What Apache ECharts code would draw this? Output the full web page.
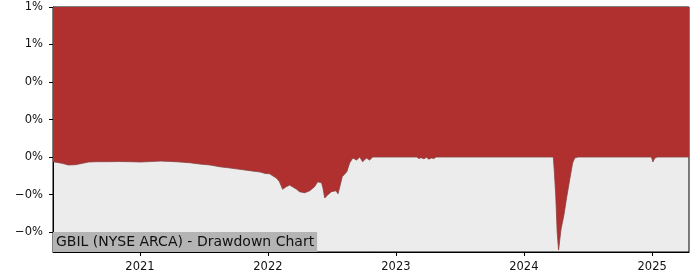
<!DOCTYPE html>
<html>
<head>
<meta charset="utf-8">
<script src="https://cdn.jsdelivr.net/npm/echarts@6/dist/echarts.min.js"></script>
<style>html,body{margin:0;padding:0;background:#fff}#c{width:700px;height:280px}</style>
</head>
<body>
<div id="c"></div>
<script>
const titleText = 'GBIL (NYSE ARCA) - Drawdown Chart';
const yTickValues = [-0.5, -0.25, 0, 0.25, 0.5, 0.75, 1.0];
const yTickLabels = ['\u22120%', '\u22120%', '0%', '0%', '0%', '1%', '1%'];
const xTickDates = ['2021-01-01', '2022-01-01', '2023-01-01', '2024-01-01', '2025-01-01'];
const xTickLabels = ['2021', '2022', '2023', '2024', '2025'];
const dates = [
  '2020-04-28','2020-05-10','2020-05-24','2020-06-11','2020-07-01','2020-07-21','2020-08-08','2020-09-01',
  '2020-10-01','2020-11-01','2020-12-01','2021-01-04','2021-02-01','2021-03-01','2021-03-28','2021-04-25',
  '2021-05-23','2021-06-21','2021-07-20','2021-08-17','2021-09-15','2021-10-13','2021-11-11','2021-12-10',
  '2021-12-24','2022-01-06','2022-01-26','2022-02-03','2022-02-12','2022-02-22','2022-03-04','2022-03-12',
  '2022-03-24','2022-04-01','2022-04-16','2022-04-30','2022-05-14','2022-05-23','2022-06-03','2022-06-07',
  '2022-06-12','2022-06-20','2022-07-01','2022-07-05','2022-07-14','2022-07-20','2022-08-01','2022-08-14',
  '2022-08-22','2022-08-31','2022-09-11','2022-09-20','2022-09-28','2022-10-09','2022-10-18','2022-10-27',
  '2022-12-01','2023-01-03','2023-03-01','2023-03-08','2023-03-14','2023-03-22','2023-03-29','2023-04-05',
  '2023-04-12','2023-04-19','2023-04-26','2023-08-01','2024-01-02','2024-03-25','2024-03-28','2024-04-01',
  '2024-04-05','2024-04-09','2024-04-12','2024-04-16','2024-04-24','2024-05-02','2024-05-10','2024-05-19',
  '2024-05-25','2024-06-03','2024-12-30','2025-01-03','2025-01-08','2025-01-15','2025-04-16'
];
const drawdown = [
  -0.031,-0.036,-0.042,-0.053,-0.051,-0.042,-0.033,-0.031,
  -0.031,-0.030,-0.031,-0.033,-0.030,-0.027,-0.029,-0.033,
  -0.038,-0.047,-0.053,-0.065,-0.073,-0.082,-0.091,-0.100,
  -0.109,-0.112,-0.142,-0.165,-0.215,-0.198,-0.187,-0.198,
  -0.215,-0.231,-0.238,-0.225,-0.198,-0.165,-0.172,-0.207,
  -0.273,-0.253,-0.231,-0.240,-0.225,-0.245,-0.131,-0.098,
  -0.040,-0.007,-0.020,0.000,-0.031,-0.007,-0.020,0.000,
  0.000,0.000,0.000,-0.010,-0.004,-0.012,-0.002,-0.014,
  -0.006,-0.010,0.000,0.000,0.000,0.000,-0.100,-0.260,
  -0.500,-0.620,-0.560,-0.480,-0.390,-0.270,-0.160,-0.040,
  -0.006,0.000,0.000,-0.033,-0.008,0.000,0.000
];

const ts = d => Date.UTC(+d.slice(0, 4), +d.slice(5, 7) - 1, +d.slice(8, 10));
const chart = echarts.init(document.getElementById('c'), null, {renderer: 'canvas'});
const font = 'DejaVu Sans';
const xTickTs = xTickDates.map(ts);
chart.setOption({
  animation: false,
  grid: {left: 53, right: 11, top: 7, bottom: 28, show: true, backgroundColor: '#ececec', borderColor: '#000', borderWidth: 1},
  title: {
    text: titleText, left: 53, bottom: 28,
    backgroundColor: '#b4b4b4', padding: [3, 3, 2, 3],
    textStyle: {fontFamily: font, fontSize: 14, fontWeight: 'normal', color: '#111', lineHeight: 15}
  },
  xAxis: {
    type: 'value',
    min: ts('2020-04-28'), max: ts('2025-04-16'),
    axisLine: {show: true, onZero: false, lineStyle: {color: '#000', width: 1}},
    axisTick: {show: true, inside: false, length: 4, lineStyle: {color: '#000'}, customValues: xTickTs},
    axisLabel: {
      customValues: xTickTs, margin: 9, color: '#111', fontFamily: font, fontSize: 11.5,
      formatter: v => { const i = xTickTs.indexOf(v); return i >= 0 ? xTickLabels[i] : ''; }
    },
    splitLine: {show: false}
  },
  yAxis: {
    type: 'value', min: -0.633, max: 1.0,
    axisLine: {show: true, onZero: false, lineStyle: {color: '#000', width: 1}},
    axisTick: {show: true, inside: false, length: 4, lineStyle: {color: '#000'}, customValues: yTickValues},
    axisLabel: {
      customValues: yTickValues, margin: 10, color: '#111', fontFamily: font, fontSize: 11.5,
      formatter: v => { const i = yTickValues.findIndex(t => Math.abs(t - v) < 1e-9); return i >= 0 ? yTickLabels[i] : ''; }
    },
    splitLine: {show: false}
  },
  series: [{
    type: 'line',
    data: dates.map((d, i) => [ts(d), drawdown[i]]),
    showSymbol: false,
    symbol: 'none',
    sampling: 'none',
    lineStyle: {width: 0.8, color: '#8a4040'},
    areaStyle: {origin: 'end', color: '#b03030', opacity: 1},
    z: 1
  }]
});
</script>
</body>
</html>
